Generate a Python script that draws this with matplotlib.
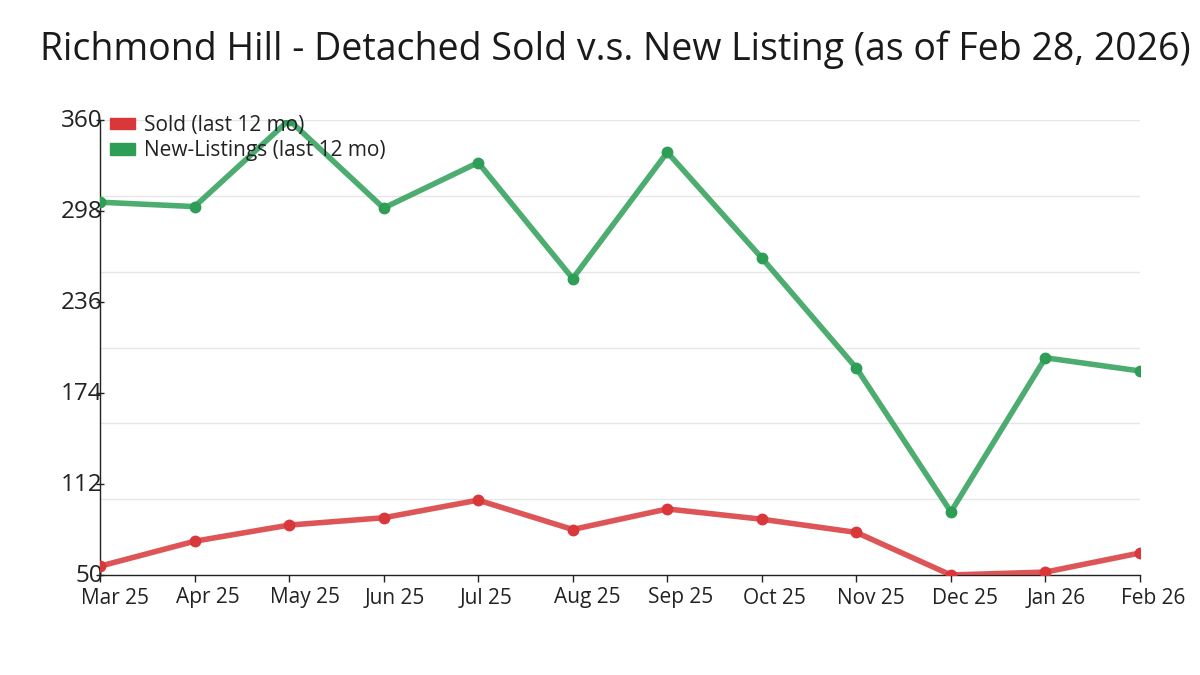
import numpy as np
import matplotlib
matplotlib.use('Agg')
import matplotlib.pyplot as plt
import matplotlib.transforms as mtransforms
from matplotlib.patches import Patch

months = ['Mar 25', 'Apr 25', 'May 25', 'Jun 25', 'Jul 25', 'Aug 25',
          'Sep 25', 'Oct 25', 'Nov 25', 'Dec 25', 'Jan 26', 'Feb 26']
sold = [56, 73, 84, 89, 101, 81, 95, 88, 79, 50, 52, 65]
new_listings = [304, 301, 360, 300, 331, 252, 338, 266, 191, 93, 198, 189]

y_labels = [50, 112, 174, 236, 298, 360]

RED = '#d9373a'
GREEN = '#2e9e57'


def main():
    plt.rcParams['font.family'] = ['Open Sans', 'DejaVu Sans']

    fig = plt.figure(figsize=(12, 6.75), dpi=100)
    ax = fig.add_axes([100 / 1200, 1 - 575 / 675, 1040 / 1200, 455 / 675])

    x = np.arange(len(months))
    ax.plot(x, sold, color=RED, lw=4, alpha=0.85, solid_capstyle='round', zorder=3)
    ax.plot(x, sold, 'o', color=RED, ms=7.5, zorder=4)
    ax.plot(x, new_listings, color=GREEN, lw=4, alpha=0.85, solid_capstyle='round', zorder=3)
    ax.plot(x, new_listings, 'o', color=GREEN, ms=7.5, zorder=4)

    lo, hi = min(y_labels), max(y_labels)
    ax.set_xlim(0, len(months) - 1)
    ax.set_ylim(lo, hi)

    # grid lines do not line up with the labels in the original
    for g in np.linspace(lo, hi, 7):
        ax.axhline(g, color='#e6e6e6', lw=1, zorder=1)

    ax.set_yticks(y_labels)
    ax.set_yticklabels([str(v) for v in y_labels])
    ax.tick_params(axis='y', direction='inout', length=6, width=1, pad=-5,
                   labelsize=17.5, colors='#222222')
    ax.set_xticks(x)
    ax.set_xticklabels(months)
    ax.tick_params(axis='x', direction='out', length=5, width=1, pad=4,
                   labelsize=15, colors='#222222')
    offset = mtransforms.ScaledTranslation(-0.19, 0, fig.dpi_scale_trans)
    for lab in ax.get_xticklabels():
        lab.set_horizontalalignment('left')
        lab.set_transform(lab.get_transform() + offset)
    yoff = mtransforms.ScaledTranslation(0, 0.02, fig.dpi_scale_trans)
    for lab in ax.get_yticklabels():
        lab.set_transform(lab.get_transform() + yoff)

    for s in ['top', 'right']:
        ax.spines[s].set_visible(False)
    for s in ['left', 'bottom']:
        ax.spines[s].set_color('#222222')
        ax.spines[s].set_linewidth(1)

    handles = [Patch(color=RED, label='Sold (last 12 mo)'),
               Patch(color=GREEN, label='New-Listings (last 12 mo)')]
    leg = ax.legend(handles=handles, loc='upper left', bbox_to_anchor=(0.0096, 1.011),
                    frameon=False, fontsize=15, handlelength=1.2, handleheight=0.48,
                    handletextpad=0.45, labelspacing=0.2, borderpad=0, borderaxespad=0)
    leg.set_zorder(5)
    for t in leg.get_texts():
        t.set_color('#222222')

    fig.text(615 / 1200, 1 - 60 / 675,
             'Richmond Hill - Detached Sold v.s. New Listing (as of Feb 28, 2026)',
             ha='center', va='baseline', fontsize=27, color='#1a1a1a')

    fig.savefig('out.png', dpi=100, facecolor='white')
    plt.close(fig)


if __name__ == '__main__':
    main()
